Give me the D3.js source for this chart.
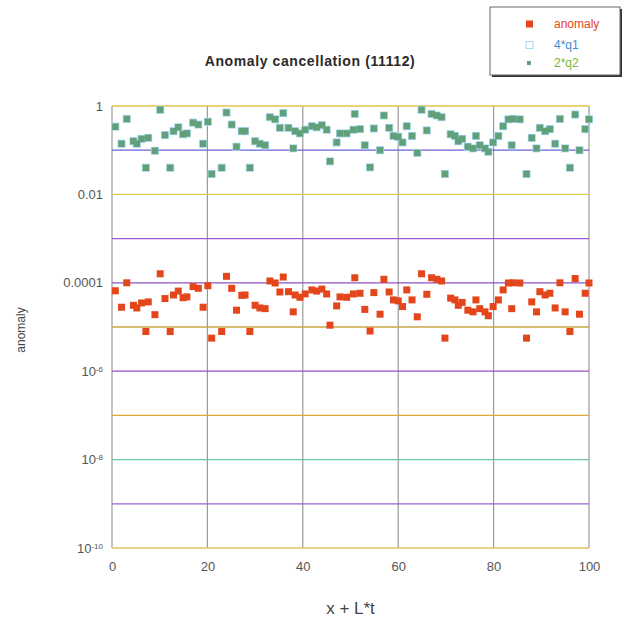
<!DOCTYPE html>
<html>
	<head>
		<meta charset="utf-8"/>
		<script type="text/javascript" src="https://cdn.jsdelivr.net/npm/d3@7"></script>
		<style>
			body {
				margin:0;
				background:#fff;
			}
			svg text {
				font-family:"Liberation Sans", Arial, sans-serif;
			}
			.title {
				font-size:14px;
				font-weight:bold;
				letter-spacing:0.6px;
				fill:#2a2a2a;
				text-anchor:middle;
			}
			.tick text {
				font-size:13px;
				fill:#555;
			}
			.axis_label {
				fill:#444;
			}
		</style>
	</head>
	<body>
		<script>
			// x positions of the samples
			var xs = [
				0.7, 2.0, 3.1, 4.5, 5.2, 6.2, 7.1, 7.6, 9.0, 10.1,
				11.1, 12.2, 12.9, 13.9, 14.9, 15.7, 17.0, 18.1, 19.1, 20.1,
				20.9, 23.0, 24.0, 25.1, 26.1, 27.2, 27.9, 28.9, 30.0, 31.0,
				32.1, 33.1, 34.2, 35.2, 35.9, 37.0, 38.0, 38.4, 39.4, 40.5,
				41.9, 42.9, 44.0, 45.0, 45.7, 47.1, 47.8, 49.2, 50.6, 50.9,
				52.0, 53.0, 54.1, 54.9, 56.2, 57.0, 58.1, 59.0, 60.0, 60.9,
				61.8, 62.9, 64.0, 64.9, 66.0, 67.0, 68.1, 69.1, 69.8, 71.0,
				71.9, 72.6, 73.4, 74.6, 75.7, 76.3, 77.1, 78.2, 78.9, 79.9,
				81.0, 82.0, 83.1, 83.8, 84.1, 85.5, 86.9, 88.0, 89.0, 89.7,
				90.8, 91.8, 92.9, 93.9, 95.0, 96.0, 97.1, 98.0, 99.2, 100.0
			];
			var anomaly = [
				6.6e-5, 2.8e-5, 1.0e-4, 3.1e-5, 2.7e-5, 3.5e-5, 7.9e-6, 3.7e-5, 1.9e-5, 1.6e-4,
				4.4e-5, 7.9e-6, 5.3e-5, 6.5e-5, 4.6e-5, 4.8e-5, 8.2e-5, 7.5e-5, 2.8e-5, 8.6e-5,
				5.6e-6, 7.9e-6, 1.4e-4, 7.5e-5, 2.4e-5, 5.2e-5, 5.3e-5, 7.9e-6, 3.1e-5, 2.7e-5,
				2.6e-5, 1.1e-4, 9.9e-5, 6.2e-5, 1.35e-4, 6.3e-5, 2.2e-5, 5.3e-5, 4.7e-5, 5.6e-5,
				6.9e-5, 6.5e-5, 7.2e-5, 5.6e-5, 1.1e-5, 3.0e-5, 4.8e-5, 4.7e-5, 5.6e-5, 1.3e-4,
				5.8e-5, 2.5e-5, 8.1e-6, 6.0e-5, 1.95e-5, 1.2e-4, 6.2e-5, 4.1e-5, 3.9e-5, 2.9e-5,
				6.9e-5, 4.1e-5, 1.7e-5, 1.6e-4, 5.5e-5, 1.3e-4, 1.2e-4, 1.1e-4, 5.6e-6, 4.5e-5,
				4.1e-5, 3.1e-5, 3.6e-5, 2.4e-5, 2.2e-5, 4.1e-5, 2.6e-5, 2.2e-5, 1.8e-5, 2.9e-5,
				4.1e-5, 6.9e-5, 9.9e-5, 2.6e-5, 1.0e-4, 9.9e-5, 5.6e-6, 3.7e-5, 2.2e-5, 6.3e-5,
				5.3e-5, 5.8e-5, 2.7e-5, 1.0e-4, 2.2e-5, 7.9e-6, 1.25e-4, 1.95e-5, 5.8e-5, 9.9e-5
			];
			var q1x4 = [
				0.34, 0.14, 0.51, 0.16, 0.14, 0.18, 0.040, 0.19, 0.097, 0.82,
				0.22, 0.040, 0.27, 0.33, 0.23, 0.24, 0.42, 0.38, 0.14, 0.44,
				0.029, 0.040, 0.71, 0.38, 0.12, 0.27, 0.27, 0.040, 0.16, 0.14,
				0.13, 0.56, 0.50, 0.32, 0.69, 0.32, 0.11, 0.27, 0.24, 0.29,
				0.35, 0.33, 0.37, 0.29, 0.056, 0.15, 0.24, 0.24, 0.29, 0.66,
				0.30, 0.13, 0.041, 0.31, 0.10, 0.61, 0.32, 0.21, 0.20, 0.15,
				0.35, 0.21, 0.087, 0.82, 0.28, 0.66, 0.61, 0.56, 0.029, 0.23,
				0.21, 0.16, 0.18, 0.12, 0.11, 0.21, 0.13, 0.11, 0.092, 0.15,
				0.21, 0.35, 0.50, 0.13, 0.51, 0.50, 0.029, 0.19, 0.11, 0.32,
				0.27, 0.30, 0.14, 0.51, 0.11, 0.040, 0.64, 0.10, 0.30, 0.50
			];
			var q2x2 = [
				0.34, 0.14, 0.51, 0.16, 0.14, 0.18, 0.040, 0.19, 0.097, 0.82,
				0.22, 0.040, 0.27, 0.33, 0.23, 0.24, 0.42, 0.38, 0.14, 0.44,
				0.029, 0.040, 0.71, 0.38, 0.12, 0.27, 0.27, 0.040, 0.16, 0.14,
				0.13, 0.56, 0.50, 0.32, 0.69, 0.32, 0.11, 0.27, 0.24, 0.29,
				0.35, 0.33, 0.37, 0.29, 0.056, 0.15, 0.24, 0.24, 0.29, 0.66,
				0.30, 0.13, 0.041, 0.31, 0.10, 0.61, 0.32, 0.21, 0.20, 0.15,
				0.35, 0.21, 0.087, 0.82, 0.28, 0.66, 0.61, 0.56, 0.029, 0.23,
				0.21, 0.16, 0.18, 0.12, 0.11, 0.21, 0.13, 0.11, 0.092, 0.15,
				0.21, 0.35, 0.50, 0.13, 0.51, 0.50, 0.029, 0.19, 0.11, 0.32,
				0.27, 0.30, 0.14, 0.51, 0.11, 0.040, 0.64, 0.10, 0.30, 0.50
			];
			var xTicks = [0, 20, 40, 60, 80, 100];
			var yTicks = [1, 1e-2, 1e-4, 1e-6, 1e-8, 1e-10];
			var yTickLabels = ["1", "0.01", "0.0001", "10|-6", "10|-8", "10|-10"];
			var gridDecades = [1, 1e-1, 1e-2, 1e-3, 1e-4, 1e-5, 1e-6, 1e-7, 1e-8, 1e-9, 1e-10];
			var seriesNames = ["anomaly", "4*q1", "2*q2"];

			// each horizontal grid line has its own tint in the original
			var gridColors = ["#e6c34a", "#6a62d6", "#d9c957", "#9a5bd8", "#8a55c8", "#c9a648",
				"#9a4cc8", "#e0a83a", "#6cc4a8", "#9466d6", "#e2c460"];
			var color_anom = "#e4461c";
			var color_q1 = "#a6d8f2";
			var color_q2 = "#62a07a";

			var width = 627, height = 627;
			var plot_left = 112, plot_right = 589, plot_top = 106, plot_bottom = 548;

			var svg = d3.select("body").append("svg")
				.attr("width", width)
				.attr("height", height);

			var x = d3.scaleLinear().domain([0, 100]).range([plot_left, plot_right]);
			var y = d3.scaleLog().domain([1e-10, 1]).range([plot_bottom, plot_top]);

			// vertical grid
			svg.append("g").selectAll("line")
				.data(xTicks)
				.join("line")
				.attr("x1", d => x(d)).attr("x2", d => x(d))
				.attr("y1", plot_top).attr("y2", plot_bottom)
				.attr("stroke", "#9a9a9a")
				.attr("stroke-width", 1.2);

			// horizontal grid
			svg.append("g").selectAll("line")
				.data(gridDecades)
				.join("line")
				.attr("x1", plot_left).attr("x2", plot_right)
				.attr("y1", d => y(d)).attr("y2", d => y(d))
				.attr("stroke", (d, i) => gridColors[i])
				.attr("stroke-width", 1.3);

			// axes
			var xAxis = svg.append("g")
				.attr("transform", "translate(0," + plot_bottom + ")")
				.call(d3.axisBottom(x).tickValues(xTicks).tickSize(0).tickPadding(14));
			xAxis.select(".domain").remove();

			var yAxis = svg.append("g")
				.attr("transform", "translate(" + plot_left + ",0)")
				.call(d3.axisLeft(y).tickValues(yTicks).tickSize(0).tickPadding(9).tickFormat(""));
			yAxis.select(".domain").remove();
			yAxis.selectAll(".tick text").each(function(d, i) {
				var t = d3.select(this);
				var parts = yTickLabels[i].split("|");
				t.append("tspan").text(parts[0]);
				if (parts.length > 1) {
					t.append("tspan")
						.attr("dy", "-0.5em")
						.style("font-size", "8px")
						.text(parts[1]);
				}
			});

			// points
			function addSeries(vals, color, size, cls) {
				svg.append("g").attr("class", cls).selectAll("rect")
					.data(vals)
					.join("rect")
					.attr("x", (d, i) => x(xs[i]) - size / 2)
					.attr("y", d => y(d) - size / 2)
					.attr("width", size)
					.attr("height", size)
					.attr("fill", color);
			}
			addSeries(anomaly, color_anom, 7, "s_anom");
			addSeries(q1x4, color_q1, 8, "s_q1");
			addSeries(q2x2, color_q2, 6.5, "s_q2");

			// title and axis labels
			svg.append("text")
				.attr("class", "title")
				.attr("x", 310)
				.attr("y", 66)
				.text("Anomaly cancellation (11112)");
			svg.append("text")
				.attr("class", "axis_label")
				.attr("transform", "translate(25,330) rotate(-90)")
				.attr("text-anchor", "middle")
				.style("font-size", "12px")
				.text("anomaly");
			svg.append("text")
				.attr("class", "axis_label")
				.attr("x", (plot_left + plot_right) / 2)
				.attr("y", 614)
				.attr("text-anchor", "middle")
				.style("font-size", "17px")
				.text("x + L*t");

			// legend
			var legend = svg.append("g").attr("transform", "translate(490,7)");
			legend.append("rect")
				.attr("x", 2).attr("y", 2)
				.attr("width", 130).attr("height", 68)
				.attr("fill", "#333");
			legend.append("rect")
				.attr("width", 130).attr("height", 68)
				.attr("fill", "#fff")
				.attr("stroke", "#666")
				.attr("stroke-width", 1);
			var legColors = [color_anom, color_q1, color_q2];
			var legText = ["#e4461c", "#3b8fd0", "#79b63a"];
			var items = legend.selectAll(".item")
				.data(seriesNames)
				.join("g")
				.attr("class", "item")
				.attr("transform", (d, i) => "translate(0," + [17, 38, 56][i] + ")");
			items.append("rect")
				.attr("x", (d, i) => i == 2 ? 37 : 36)
				.attr("y", (d, i) => i == 2 ? -2 : -3.5)
				.attr("width", (d, i) => i == 2 ? 4 : 7)
				.attr("height", (d, i) => i == 2 ? 4 : 7)
				.attr("fill", (d, i) => i == 1 ? "#fff" : legColors[i])
				.attr("stroke", (d, i) => i == 1 ? color_q1 : "none");
			items.append("text")
				.attr("x", 64)
				.attr("y", 4)
				.style("font-size", "12px")
				.attr("fill", (d, i) => legText[i])
				.text(d => d);
		</script>
	</body>
</html>
